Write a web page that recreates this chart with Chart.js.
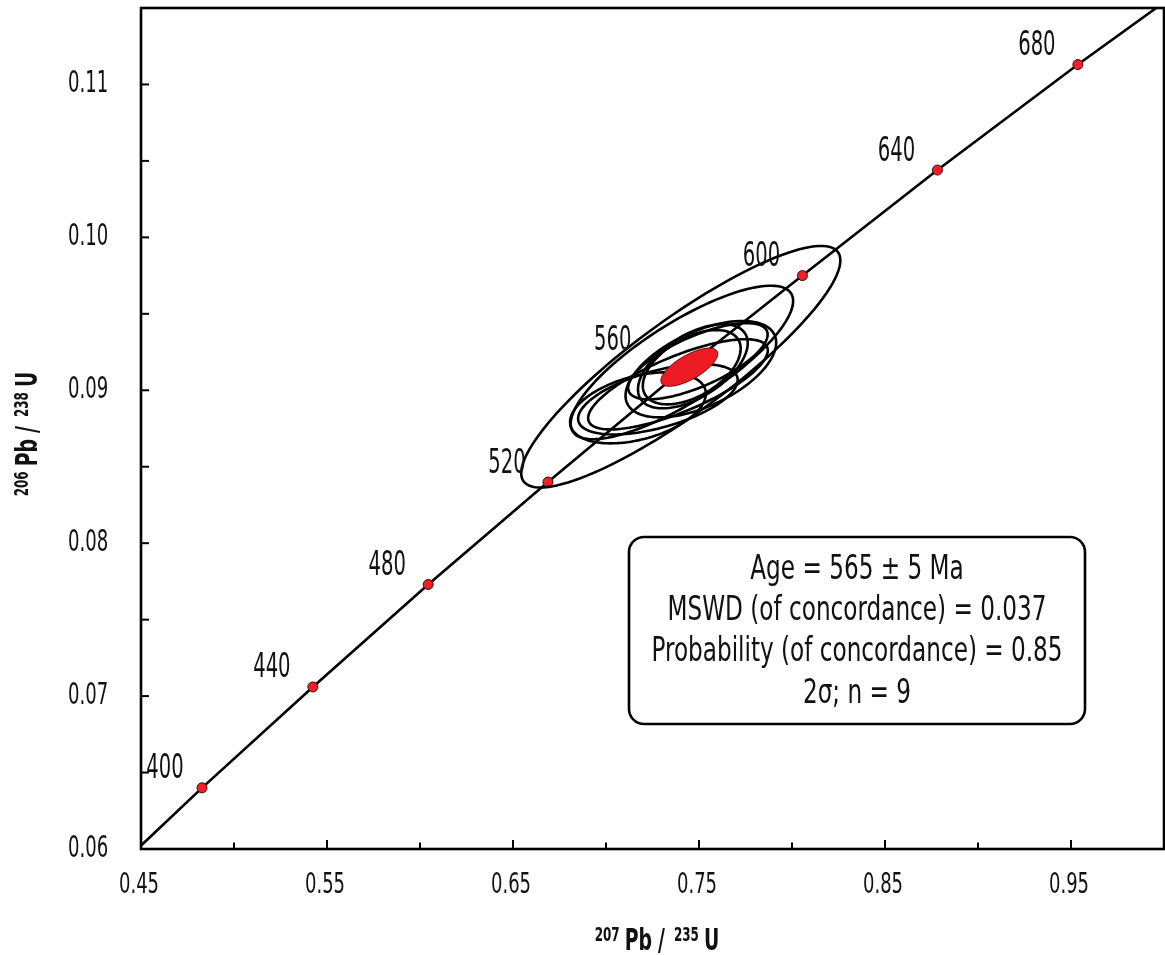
<!DOCTYPE html>
<html>
<head>
<meta charset="utf-8">
<script src="https://cdn.jsdelivr.net/npm/chart.js@4.4.0/dist/chart.umd.min.js"></script>
<style>
  html, body { margin: 0; padding: 0; background: #fff; overflow: hidden; }
  #wrap { width: 1170px; height: 955px; }
</style>
</head>
<body>
<div id="wrap"><canvas id="c" width="1170" height="955"></canvas></div>
<script>
const FONT = '"Liberation Sans Narrow", "DejaVu Sans Condensed", "Arial Narrow", sans-serif';

// concordia curve, ages in Ma
const concAges = [360, 400, 440, 480, 520, 560, 600, 640, 680, 720];
const concX = [0.4255, 0.4828, 0.5424, 0.6044, 0.6688, 0.7359, 0.8056, 0.8782, 0.9537, 1.0322];
const concY = [0.0574, 0.0640, 0.0706, 0.0773, 0.0840, 0.0908, 0.0975, 0.1044, 0.1113, 0.1182];

// labelled age markers
const markAges = [400, 440, 480, 520, 560, 600, 640, 680];

// error ellipses: centre, 2-sigma half widths, correlation
const ellX   = [0.7402, 0.7408, 0.7172, 0.7279, 0.7510, 0.7467, 0.7461, 0.7494, 0.7387];
const ellY   = [0.09154, 0.09182, 0.08885, 0.08941, 0.09138, 0.09157, 0.09151, 0.09190, 0.09039];
const ellSx  = [0.0858, 0.0598, 0.0365, 0.0429, 0.0405, 0.0295, 0.0263, 0.0375, 0.0483];
const ellSy  = [0.0079, 0.00502, 0.00232, 0.00230, 0.00315, 0.00275, 0.00243, 0.00249, 0.00295];
const ellRho = [0.88, 0.8, 0.4, 0.55, 0.55, 0.55, 0.5, 0.7, 0.75];

// concordia age ellipse
const ageX = 0.7448, ageY = 0.09151, ageSx = 0.0153, ageSy = 0.00125, ageRho = 0.7;

const boxLines = [
  "Age = 565 \u00b1 5 Ma",
  "MSWD (of concordance) = 0.037",
  "Probability (of concordance) = 0.85",
  "2\u03c3; n = 9"
];

const xMin = 0.45, xMax = 1.0, xStep = 0.05;
const yMin = 0.06, yMax = 0.115, yStep = 0.005;

// label placement (pixels from the marker)
const LABEL_DX = -41, LABEL_DY = -18;
const LABEL_SHIFT = { 400: [-37, -18], 560: [-60, -37] };

function squeezedText(ctx, text, x, y, size, weight, align, sq) {
  ctx.save();
  ctx.font = weight + " " + size + "px " + FONT;
  const w = ctx.measureText(text).width * sq;
  let left = x;
  if (align === "center") left = x - w / 2;
  else if (align === "right") left = x - w;
  ctx.translate(left, y);
  ctx.scale(sq, 1);
  ctx.textAlign = "left";
  ctx.fillText(text, 0, 0);
  ctx.restore();
  return w;
}

function textWidth(ctx, text, size, weight, sq) {
  ctx.save();
  ctx.font = weight + " " + size + "px " + FONT;
  const w = ctx.measureText(text).width * sq;
  ctx.restore();
  return w;
}

function ellipsePath(ctx, xs, ys, cx, cy, sx, sy, r) {
  const k = Math.sqrt(1 - r * r);
  ctx.beginPath();
  for (let j = 0; j <= 120; j++) {
    const t = j / 120 * 2 * Math.PI;
    const px = xs.getPixelForValue(cx + sx * Math.cos(t));
    const py = ys.getPixelForValue(cy + sy * (r * Math.cos(t) + k * Math.sin(t)));
    if (j === 0) ctx.moveTo(px, py); else ctx.lineTo(px, py);
  }
  ctx.closePath();
}

// isotope ratio title: [text, superscript?, gap after]
const TITLE_SQ = 0.7;
function drawTitle(ctx, parts, cx, base) {
  const ws = parts.map(p => textWidth(ctx, p[0], p[1] ? 19 : 30, "bold", TITLE_SQ));
  const total = ws.reduce((s, w, i) => s + w + parts[i][2], 0) - parts[parts.length - 1][2];
  let x = cx - total / 2;
  parts.forEach((p, i) => {
    squeezedText(ctx, p[0], x, p[1] ? base - 9 : base, p[1] ? 19 : 30, "bold", "left", TITLE_SQ);
    x += ws[i] + p[2];
  });
}

const concordiaPlugin = {
  id: "concordia",
  afterDatasetsDraw(chart) {
    const { ctx, chartArea: a } = chart;
    const xs = chart.scales.x, ys = chart.scales.y;
    ctx.save();
    ctx.beginPath();
    ctx.rect(a.left, a.top, a.right - a.left, a.bottom - a.top);
    ctx.clip();

    ctx.strokeStyle = "#000";
    ctx.lineWidth = 2.6;
    for (let i = 0; i < ellX.length; i++) {
      ellipsePath(ctx, xs, ys, ellX[i], ellY[i], ellSx[i], ellSy[i], ellRho[i]);
      ctx.stroke();
    }
    ellipsePath(ctx, xs, ys, ageX, ageY, ageSx, ageSy, ageRho);
    ctx.fillStyle = "#ed1c24";
    ctx.fill();
    ctx.lineWidth = 1;
    ctx.strokeStyle = "#5a0a0a";
    ctx.stroke();
    ctx.restore();

    // age labels next to the markers
    ctx.save();
    ctx.fillStyle = "#111";
    ctx.textBaseline = "middle";
    markAges.forEach(age => {
      const i = concAges.indexOf(age);
      const px = xs.getPixelForValue(concX[i]);
      const py = ys.getPixelForValue(concY[i]);
      const sh = LABEL_SHIFT[age] || [LABEL_DX, LABEL_DY];
      squeezedText(ctx, String(age), px + sh[0], py + sh[1], 33, "normal", "center", 0.66);
    });
    ctx.restore();
  },
  afterDraw(chart) {
    const { ctx, chartArea: a } = chart;
    const xs = chart.scales.x, ys = chart.scales.y;
    ctx.save();

    // frame
    ctx.strokeStyle = "#000";
    ctx.lineWidth = 2.6;
    ctx.strokeRect(a.left, a.top, a.right - a.left, a.bottom - a.top);

    // inward ticks and labels
    ctx.lineWidth = 2;
    ctx.fillStyle = "#111";
    ctx.textBaseline = "middle";
    xs.ticks.forEach((tk, i) => {
      const px = xs.getPixelForValue(tk.value);
      const major = i % 2 === 0;
      ctx.beginPath();
      ctx.moveTo(px, a.bottom);
      ctx.lineTo(px, a.bottom - (major ? 9 : 6.5));
      ctx.stroke();
      if (major && tk.value < xMax - 0.01) {
        squeezedText(ctx, tk.value.toFixed(2), px - 2, 885, 29, "normal", "center", 0.69);
      }
    });
    ys.ticks.forEach((tk, i) => {
      const py = ys.getPixelForValue(tk.value);
      ctx.beginPath();
      ctx.moveTo(a.left, py);
      ctx.lineTo(a.left + 8, py);
      ctx.stroke();
      if (i % 2 === 0 && tk.value < yMax - 0.001) {
        squeezedText(ctx, tk.value.toFixed(2), 68, py, 30, "normal", "left", 0.67);
      }
    });

    // axis titles
    ctx.textBaseline = "alphabetic";
    drawTitle(ctx, [["207", true, 5], ["Pb", false, 6], ["/", false, 9], ["235", true, 5], ["U", false, 0]], 657, 950);
    ctx.save();
    ctx.translate(37, 434);
    ctx.rotate(-Math.PI / 2);
    drawTitle(ctx, [["206", true, 5], ["Pb", false, 6], ["/", false, 9], ["238", true, 5], ["U", false, 0]], 0, 0);
    ctx.restore();

    // result box
    const bx = 629, by = 537, bw = 456, bh = 187, r = 15;
    ctx.beginPath();
    ctx.roundRect(bx, by, bw, bh, r);
    ctx.fillStyle = "#fff";
    ctx.fill();
    ctx.lineWidth = 2.6;
    ctx.strokeStyle = "#000";
    ctx.stroke();
    ctx.fillStyle = "#111";
    ctx.textBaseline = "middle";
    const lineY = [570, 611, 652, 694];
    boxLines.forEach((t, i) => squeezedText(ctx, t, bx + bw / 2, lineY[i], 33, "normal", "center", 0.78));

    ctx.restore();
  }
};

const ctx = document.getElementById("c").getContext("2d");
new Chart(ctx, {
  type: "scatter",
  data: {
    datasets: [
      {
        label: "markers",
        data: markAges.map(age => {
          const i = concAges.indexOf(age);
          return { x: concX[i], y: concY[i] };
        }),
        showLine: false,
        pointRadius: 5,
        pointBackgroundColor: "#ee2026",
        pointBorderColor: "#3a0a0a",
        pointBorderWidth: 1
      },
      {
        label: "concordia",
        data: concX.map((x, i) => ({ x: x, y: concY[i] })),
        showLine: true,
        borderColor: "#000",
        borderWidth: 2.6,
        pointRadius: 0,
        tension: 0
      }
    ]
  },
  options: {
    responsive: false,
    animation: false,
    events: [],
    layout: { padding: { left: 0, right: 3, top: 8, bottom: 0 } },
    plugins: { legend: { display: false }, tooltip: { enabled: false } },
    scales: {
      x: {
        type: "linear",
        min: xMin, max: xMax,
        ticks: { stepSize: xStep, display: false },
        grid: { display: false, drawTicks: false },
        border: { display: false },
        afterFit: s => { s.height = 106; }
      },
      y: {
        type: "linear",
        min: yMin, max: yMax,
        ticks: { stepSize: yStep, display: false },
        grid: { display: false, drawTicks: false },
        border: { display: false },
        afterFit: s => { s.width = 141; }
      }
    }
  },
  plugins: [concordiaPlugin]
});
</script>
</body>
</html>
